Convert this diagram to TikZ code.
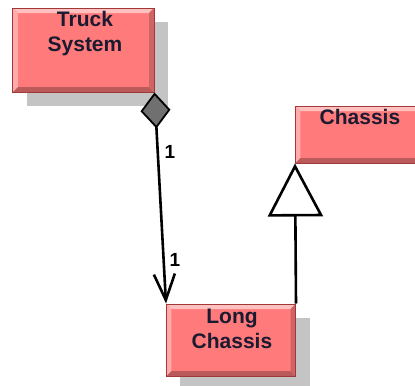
\documentclass[tikz,border=0pt]{standalone}
\usepackage{fontspec}
\setmainfont{Liberation Sans}
\usetikzlibrary{arrows.meta,shadows,calc}
\definecolor{boxfill}{HTML}{FF7B7B}
\definecolor{boxborder}{HTML}{A03A3A}
\definecolor{bevlight}{HTML}{FFC0C0}
\definecolor{bevdark}{HTML}{BA5A5A}
\definecolor{shadowgray}{HTML}{C4C4C4}
\definecolor{textnavy}{HTML}{1A1A30}
\definecolor{diamondgray}{HTML}{707070}
\tikzset{
  umlbox/.style={rectangle, draw=boxborder, line width=1bp, fill=boxfill, inner sep=0pt,
    path picture={
      \coordinate (pnw) at (path picture bounding box.north west);
      \coordinate (pne) at (path picture bounding box.north east);
      \coordinate (psw) at (path picture bounding box.south west);
      \coordinate (pse) at (path picture bounding box.south east);
      \fill[bevlight] (pnw) -- (pne) -- ($(pne)+(-5bp,-5bp)$) -- ($(pnw)+(5bp,-5bp)$) -- cycle;
      \fill[bevlight!70!boxfill] (pnw) -- (psw) -- ($(psw)+(5bp,5bp)$) -- ($(pnw)+(5bp,-5bp)$) -- cycle;
      \fill[bevdark] (psw) -- (pse) -- ($(pse)+(-5bp,5bp)$) -- ($(psw)+(5bp,5bp)$) -- cycle;
      \fill[bevdark!70!boxfill] (pne) -- (pse) -- ($(pse)+(-5bp,5bp)$) -- ($(pne)+(-5bp,-5bp)$) -- cycle;
    }},
  shadowed/.style={drop shadow={shadow xshift=14bp, shadow yshift=-14bp, fill=shadowgray, opacity=1}},
  boxname/.style={anchor=north, inner sep=0pt, align=center, text=textnavy,
    font=\bfseries\fontsize{21bp}{25bp}\selectfont},
  conn/.style={line width=2.6bp, black},
  mult/.style={inner sep=0pt, text=black, font=\bfseries\fontsize{19bp}{22bp}\selectfont}
}
\begin{document}
\begin{tikzpicture}[x=1bp, y=-1bp]
\useasboundingbox (0,0) rectangle (415,386);
\clip (0,0) rectangle (415,386);
% boxes
\node[umlbox, shadowed, minimum width=141bp, minimum height=84bp] (ts) at (83.5,50) {};
\node[umlbox, shadowed, minimum width=129bp, minimum height=72bp] (lc) at (231,340) {};
\node[umlbox, minimum width=130bp, minimum height=57bp] (ch) at (360.5,134.5) {};
% names
\node[boxname] (tsname) at (85,11.5) {Truck\\System};
\node[boxname] (lcname) at (232,308.5) {Long\\Chassis};
\node[boxname] (chname) at (360,109.5) {Chassis};
% connectors
\draw[conn, {Diamond[length=36bp,width=30bp,fill=diamondgray,line width=1.8bp]}-{Straight Barb[length=26bp,width=21bp]}]
  (ts.south east) -- (lc.north west);
\draw[conn, -{Triangle[length=53bp,width=55bp,fill=white]}] (lc.north east) -- (ch.south west);
% multiplicities
\node[mult] (m1) at (170,151.5) {1};
\node[mult] (m2) at (175,259.5) {1};
\end{tikzpicture}
\end{document}
